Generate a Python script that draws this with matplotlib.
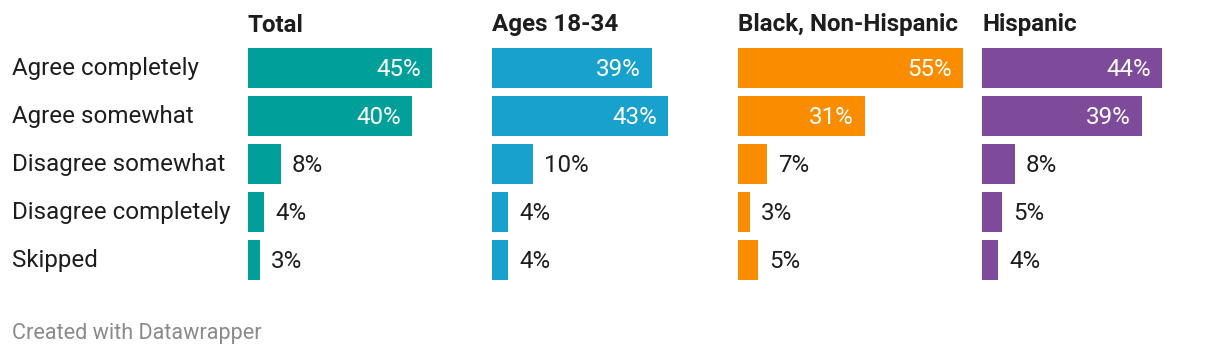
import matplotlib.pyplot as plt
from matplotlib.transforms import blended_transform_factory

plt.rcParams['font.family'] = ['Roboto', 'DejaVu Sans']

categories = ['Agree completely', 'Agree somewhat', 'Disagree somewhat',
              'Disagree completely', 'Skipped']
groups = ['Total', 'Ages 18-34', 'Black, Non-Hispanic', 'Hispanic']
total = [45, 40, 8, 4, 3]
ages_18_34 = [39, 43, 10, 4, 4]
black_non_hispanic = [55, 31, 7, 3, 5]
hispanic = [44, 39, 8, 5, 4]
series = [total, ages_18_34, black_non_hispanic, hispanic]
colors = ['#009f9a', '#18a1cd', '#fa8c00', '#7e4a9a']

W, H = 1220, 356
fig = plt.figure(figsize=(W / 100, H / 100), dpi=100)

col_left = [248, 492, 738, 982]   # px
col_width = 225
vmax = max(max(s) for s in series)
top, pitch = 44, 48
n = len(categories)
fs = 17.4

for k, (name, vals, c) in enumerate(zip(groups, series, colors)):
    ax = fig.add_axes([col_left[k] / W, 1 - (top + n * pitch) / H,
                       col_width / W, n * pitch / H])
    ypos = list(range(n))
    ax.barh(ypos, vals, height=40 / 48, color=c, left=0)
    ax.set_xlim(0, vmax)
    ax.set_ylim(n - 0.5, -0.5)
    ax.axis('off')
    for i, v in enumerate(vals):
        if v >= 20:
            ax.annotate(f'{v}%', (v, i), xytext=(-11, -1), textcoords='offset pixels',
                        ha='right', va='center', color='white', fontsize=fs)
        else:
            ax.annotate(f'{v}%', (v, i), xytext=(11, -1), textcoords='offset pixels',
                        ha='left', va='center', color='#1d1d1d', fontsize=fs)
    ax.text(0, 1 + 19 / (n * pitch), name, transform=ax.transAxes,
            ha='left', va='center', fontsize=fs, fontweight='bold', color='#1d1d1d')
    if k == 0:
        for i, cat in enumerate(categories):
            ax.annotate(cat, (0, i), xycoords=blended_transform_factory(fig.transFigure, ax.transData),
                        xytext=(12, -1), textcoords='offset pixels',
                        ha='left', va='center', fontsize=fs, color='#1d1d1d')

fig.text(12 / W, 1 - 334 / H, 'Created with Datawrapper', ha='left', va='center',
         fontsize=15.6, color='#8a8a8a')

fig.savefig('out.png', dpi=100, facecolor='white')
